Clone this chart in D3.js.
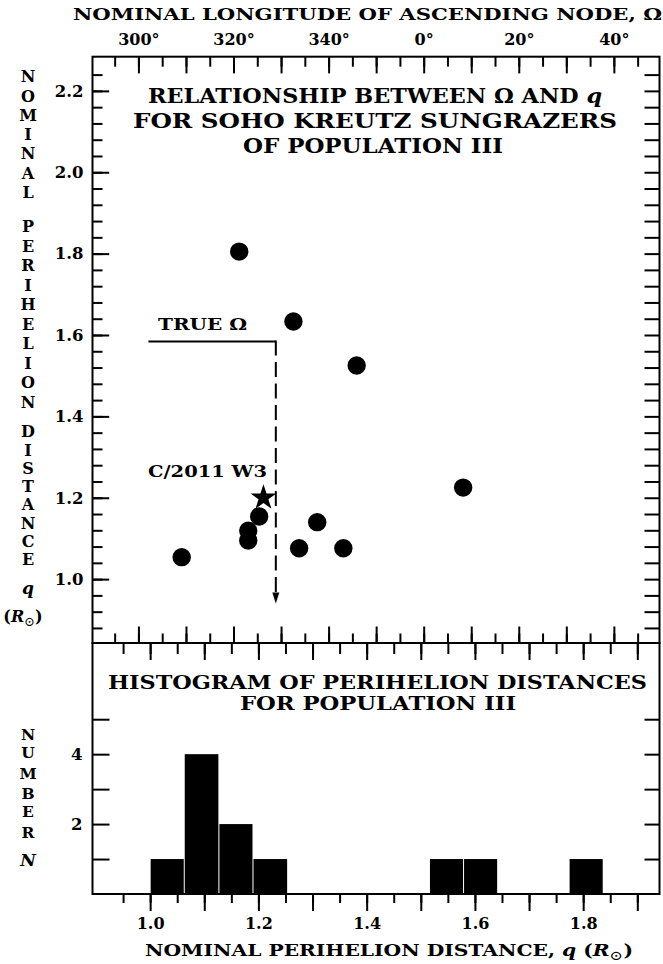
<!DOCTYPE html>
<html>
<head>
<meta charset="utf-8">
<script src="https://cdn.jsdelivr.net/npm/d3@7"></script>
<style>
  body { margin: 0; background: #fff; }
  svg { display: block; }
  text { font-family: "DejaVu Serif", "Liberation Serif", serif; font-weight: bold; fill: #000; }
</style>
</head>
<body>
<svg id="chart" width="663" height="964"></svg>
<script>
// Population III SOHO Kreutz sungrazers: nominal longitude of ascending node (deg)
// and nominal perihelion distance (solar radii)
const nodeLongitude = [309.1, 321.2, 323.1, 323.1, 325.4, 332.6, 333.8, 337.6, 343.1, 345.9, 8.3];
const perihelionQ   = [1.054, 1.805, 1.119, 1.095, 1.154, 1.633, 1.076, 1.140, 1.076, 1.525, 1.225];

// comet C/2011 W3
const w3Node = 326.3;
const w3Q = 1.20;

// true node marker: leader from the label, then dashed drop to the q axis
const trueNode = 328.9;
const trueLeaderFrom = 302.1;
const trueLeaderQ = 1.584;
const trueArrowQ = 0.94;

// histogram of perihelion distances
const binLow   = [1.000, 1.063, 1.127, 1.190, 1.516, 1.579, 1.774];
const binHigh  = [1.063, 1.127, 1.190, 1.254, 1.579, 1.642, 1.837];
const binCount = [1, 4, 2, 1, 1, 1, 1];

// tick labels
const nodeTickLabels = [300, 320, 340, 360, 380, 400];
const qTickLabels = [1.0, 1.2, 1.4, 1.6, 1.8, 2.0, 2.2];
const histQTickLabels = [1.0, 1.2, 1.4, 1.6, 1.8];
const countTickLabels = [2, 4];

// ---- layout ----
const L = 92.5, R = 659.5;
const topY = 56.7, midY = 643, botY = 894;

const svg = d3.select("#chart");

const xNode = d3.scaleLinear().domain([290.34, 409.6]).range([L, R]);
const yQ = d3.scaleLinear().domain([0.843, 2.284]).range([midY, topY]);
const xQ = d3.scaleLinear().domain([0.8935, 1.941]).range([L, R]);
const yN = d3.scaleLinear().domain([0, 7.18]).range([botY, midY]);

const unwrap = d => (d < 180 ? d + 360 : d);
const seq = (a, b, s) => d3.range(Math.round((b - a) / s) + 1).map(i => +(a + i * s).toFixed(4));

// tick sets
const nodeMinor = seq(295, 405, 5);
const nodeMajor = seq(300, 400, 10);
const qMinor = seq(0.88, 2.24, 0.04);
const qMajor = seq(1.0, 2.2, 0.2);
const hqMinor = seq(0.95, 1.90, 0.05);
const hqMajor = seq(1.0, 1.9, 0.1);
const countTicks = [1, 2, 3, 4, 5];

function tickAxis(axisFn, scale, values, size, y, x) {
  const g = svg.append("g")
    .attr("transform", `translate(${x || 0},${y || 0})`)
    .call(axisFn(scale).tickValues(values).tickSize(size).tickFormat(""));
  g.select(".domain").remove();
  g.selectAll(".tick line").attr("stroke", "#000").attr("stroke-width", 2);
  return g;
}

// ---- top panel: Omega vs q ----
// top edge (node longitude), ticks pointing inward
tickAxis(d3.axisTop, xNode, nodeMinor, -10, topY);
tickAxis(d3.axisTop, xNode, nodeMajor, -16.7, topY);
// bottom edge of top panel, ticks pointing up
tickAxis(d3.axisBottom, xNode, nodeMinor, -9.5, midY);
tickAxis(d3.axisBottom, xNode, nodeMajor, -16.5, midY);
// left edge q ticks
tickAxis(d3.axisLeft, yQ, qMinor, -10, 0, L);
tickAxis(d3.axisLeft, yQ, qMajor, -16.7, 0, L);
// right edge q ticks
tickAxis(d3.axisRight, yQ, qMinor, -15, 0, R);

// node labels
const nodeLab = svg.append("g").attr("transform", `translate(0,${topY})`)
  .call(d3.axisTop(xNode).tickValues(nodeTickLabels).tickSize(0).tickPadding(12)
    .tickFormat(d => (d % 360) + "°"));
nodeLab.select(".domain").remove();
nodeLab.selectAll("text").attr("font-size", 16).attr("font-family", null);

// q labels
const qLab = svg.append("g").attr("transform", `translate(${L},0)`)
  .call(d3.axisLeft(yQ).tickValues(qTickLabels).tickSize(0).tickPadding(9)
    .tickFormat(d3.format(".1f")));
qLab.select(".domain").remove();
qLab.selectAll("text").attr("font-size", 16.5).attr("font-family", null);

// ---- histogram panel ----
tickAxis(d3.axisTop, xQ, hqMinor, -11, midY);
tickAxis(d3.axisTop, xQ, hqMajor, -17, midY);
tickAxis(d3.axisBottom, xQ, hqMinor, 9, botY);
tickAxis(d3.axisBottom, xQ, hqMajor, 17, botY);
tickAxis(d3.axisLeft, yN, countTicks, -17, 0, L);
tickAxis(d3.axisRight, yN, countTicks, -15, 0, R);

const hqLab = svg.append("g").attr("transform", `translate(0,${botY})`)
  .call(d3.axisBottom(xQ).tickValues(histQTickLabels).tickSize(0).tickPadding(24)
    .tickFormat(d3.format(".1f")));
hqLab.select(".domain").remove();
hqLab.selectAll("text").attr("font-size", 16).attr("font-family", null);

const nLab = svg.append("g").attr("transform", `translate(${L},0)`)
  .call(d3.axisLeft(yN).tickValues(countTickLabels).tickSize(0).tickPadding(10));
nLab.select(".domain").remove();
nLab.selectAll("text").attr("font-size", 16.5).attr("font-family", null);

// histogram bars
const bins = binLow.map((lo, i) => ({ lo, hi: binHigh[i], n: binCount[i] }));
svg.append("g").selectAll("rect").data(bins).join("rect")
  .attr("x", d => xQ(d.lo) + 0.5)
  .attr("width", d => xQ(d.hi) - xQ(d.lo) - 1)
  .attr("y", d => yN(d.n))
  .attr("height", d => yN(0) - yN(d.n))
  .attr("fill", "#000");

// frames
svg.append("rect").attr("x", L).attr("y", topY).attr("width", R - L).attr("height", midY - topY)
  .attr("fill", "none").attr("stroke", "#000").attr("stroke-width", 2);
svg.append("rect").attr("x", L).attr("y", midY).attr("width", R - L).attr("height", botY - midY)
  .attr("fill", "none").attr("stroke", "#000").attr("stroke-width", 2);

// scatter points
const pts = nodeLongitude.map((o, i) => ({ o: unwrap(o), q: perihelionQ[i] }));
svg.append("g").selectAll("circle").data(pts).join("circle")
  .attr("cx", d => xNode(d.o)).attr("cy", d => yQ(d.q)).attr("r", 9.2).attr("fill", "#000");

// true node: leader line and dashed drop with arrow
svg.append("path")
  .attr("d", `M${xNode(trueLeaderFrom)},${yQ(trueLeaderQ)}H${xNode(trueNode)}`)
  .attr("stroke", "#000").attr("stroke-width", 2).attr("fill", "none");
svg.append("line")
  .attr("x1", xNode(trueNode)).attr("x2", xNode(trueNode))
  .attr("y1", yQ(trueLeaderQ) - 1).attr("y2", yQ(trueArrowQ) - 8)
  .attr("stroke", "#000").attr("stroke-width", 2).attr("stroke-dasharray", "15,6.5");
{
  const ax = xNode(trueNode), ay = yQ(trueArrowQ);
  svg.append("path").attr("d", `M${ax},${ay}L${ax - 3.5},${ay - 11}L${ax + 3.5},${ay - 11}Z`).attr("fill", "#000");
}

// C/2011 W3 star
svg.append("path")
  .attr("d", d3.symbol(d3.symbolStar, 205)())
  .attr("transform", `translate(${xNode(w3Node)},${yQ(w3Q)})`)
  .attr("fill", "#000");

// ---- texts ----
function label(x, y, str, size, anchor, width) {
  const t = svg.append("text").attr("x", x).attr("y", y)
    .attr("font-size", size).attr("text-anchor", anchor || "middle");
  if (Array.isArray(str)) {
    str.forEach(p => {
      const s = t.append("tspan").text(p.t);
      if (p.italic) s.attr("font-style", "italic");
      if (p.dy) s.attr("dy", p.dy);
      if (p.size) s.attr("font-size", p.size);
      if (p.weight) s.attr("font-weight", p.weight);
    });
  } else t.text(str);
  if (width) t.attr("textLength", width).attr("lengthAdjust", "spacingAndGlyphs");
  return t;
}

label(367.5, 20, "NOMINAL LONGITUDE OF ASCENDING NODE, Ω", 16, "middle", 589);

label(375, 103.3, [{ t: "RELATIONSHIP BETWEEN Ω AND " }, { t: "q", italic: true }], 20.5, "middle", 454);
label(375, 128.3, "FOR SOHO KREUTZ SUNGRAZERS", 20.5, "middle", 484);
label(373, 153.3, "OF POPULATION III", 20.5, "middle", 260);

label(202.5, 330, "TRUE Ω", 16, "middle", 89);
label(207.5, 476.7, "C/2011 W3", 16, "middle", 119);

label(377.5, 688.5, "HISTOGRAM OF PERIHELION DISTANCES", 19, "middle", 539);
label(378, 709.5, "FOR POPULATION III", 19, "middle", 276);

label(389, 955.5, [
  { t: "NOMINAL PERIHELION DISTANCE, " },
  { t: "q", italic: true },
  { t: " (" },
  { t: "R", italic: true },
  { t: "⊙", dy: 4, size: 13, weight: "normal" },
  { t: ")", dy: -4 }
], 16, "middle", 488);

// stacked y-axis title of the top panel
const words = [
  { w: "NOMINAL", y0: 76.7, step: 19.3 },
  { w: "PERIHELION", y0: 226.7, step: 19.5 },
  { w: "DISTANCE", y0: 431.7, step: 18.3 }
];
words.forEach(wd => {
  wd.w.split("").forEach((c, i) => {
    svg.append("text").attr("x", 28).attr("y", wd.y0 + i * wd.step)
      .attr("dominant-baseline", "central").attr("text-anchor", "middle")
      .attr("font-size", 16).text(c);
  });
});
svg.append("text").attr("x", 28).attr("y", 588).attr("dominant-baseline", "central")
  .attr("text-anchor", "middle").attr("font-size", 17).attr("font-style", "italic").text("q");
label(23, 622, [
  { t: "(" , },
  { t: "R", italic: true },
  { t: "⊙", dy: 4, size: 13, weight: "normal" },
  { t: ")", dy: -4 }
], 16, "middle");

// stacked y-axis title of the histogram
const numLetters = ["N", "U", "M", "B", "E", "R"];
const numY = [734, 752.5, 773.5, 793.5, 811.5, 832];
numLetters.forEach((c, i) => {
  svg.append("text").attr("x", 28).attr("y", numY[i]).attr("dominant-baseline", "central")
    .attr("text-anchor", "middle").attr("font-size", 15.5).text(c);
});
svg.append("text").attr("x", 28).attr("y", 860).attr("dominant-baseline", "central")
  .attr("text-anchor", "middle").attr("font-size", 17).attr("font-style", "italic").text("N");
</script>
</body>
</html>
